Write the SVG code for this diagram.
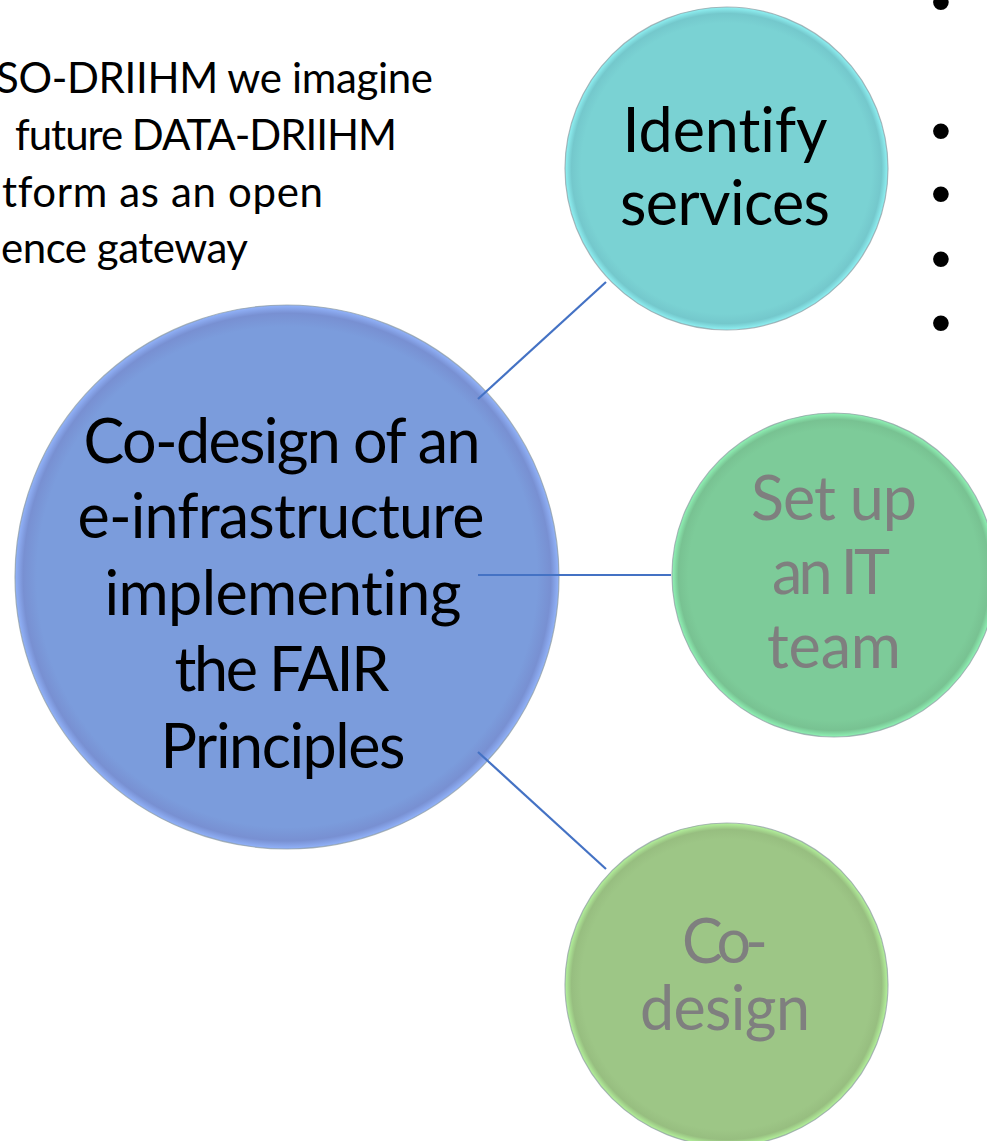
<svg xmlns="http://www.w3.org/2000/svg" width="987" height="1141" viewBox="0 0 987 1141">
  <style>
    text { font-variant-ligatures: none; }
    .lead { font-family: Lato, "Liberation Sans", Arial, sans-serif; font-size: 42px; fill: #000; }
    .big { font-family: Lato, "Liberation Sans", Arial, sans-serif; font-size: 61px; text-anchor: middle; }
    .dark { fill: #000; }
    .gray { fill: #7f7f7f; }
    .bullet { font-family: "Liberation Sans", Arial, sans-serif; font-size: 58px; fill: #000; text-anchor: middle; }
    .ring { stroke: #8c9aa0; stroke-width: 1.2; stroke-opacity: 0.7; }
    .conn { stroke: #4472c4; stroke-width: 2.2; fill: none; }
  </style>
  <defs>
    <radialGradient id="gTeal" cx="0.5" cy="0.5" r="0.5">
      <stop offset="0" stop-color="#7ad2d3"/>
      <stop offset="0.9" stop-color="#7ad2d3"/>
      <stop offset="0.96" stop-color="#74c8cc"/>
      <stop offset="1" stop-color="#90f2f4"/>
    </radialGradient>
    <radialGradient id="gBlue" cx="0.5" cy="0.5" r="0.5">
      <stop offset="0" stop-color="#7b9cdc"/>
      <stop offset="0.92" stop-color="#7b9cdc"/>
      <stop offset="0.97" stop-color="#7890d2"/>
      <stop offset="1" stop-color="#92b3fa"/>
    </radialGradient>
    <radialGradient id="gGreen" cx="0.5" cy="0.5" r="0.5">
      <stop offset="0" stop-color="#7dcb99"/>
      <stop offset="0.9" stop-color="#7dcb99"/>
      <stop offset="0.96" stop-color="#78c292"/>
      <stop offset="1" stop-color="#90f4b6"/>
    </radialGradient>
    <radialGradient id="gLime" cx="0.5" cy="0.5" r="0.5">
      <stop offset="0" stop-color="#9dc686"/>
      <stop offset="0.9" stop-color="#9dc686"/>
      <stop offset="0.96" stop-color="#97be80"/>
      <stop offset="1" stop-color="#b4f39c"/>
    </radialGradient>
  </defs>

  <rect width="987" height="1141" fill="#ffffff"/>

  <g id="intro-text">
    <text class="lead" x="-4" y="93" textLength="437" lengthAdjust="spacing">SO-DRIIHM we imagine</text>
    <text class="lead" x="15" y="150" textLength="382" lengthAdjust="spacing">future DATA-DRIIHM</text>
    <text class="lead" x="2" y="207" textLength="321" lengthAdjust="spacing">tform as an open</text>
    <text class="lead" x="1" y="263" textLength="247" lengthAdjust="spacing">ence gateway</text>
  </g>

  <g id="bullets">
    <text class="bullet" x="941" y="21">•</text>
    <text class="bullet" x="941" y="150">•</text>
    <text class="bullet" x="941" y="213">•</text>
    <text class="bullet" x="941" y="278">•</text>
    <text class="bullet" x="941" y="342">•</text>
  </g>

  <g id="node-main">
    <circle class="ring" cx="287" cy="577" r="272" fill="url(#gBlue)"/>
    <text class="big dark" x="282" y="463" textLength="397" lengthAdjust="spacing">Co-design of an</text>
    <text class="big dark" x="281" y="538" textLength="407" lengthAdjust="spacing">e-infrastructure</text>
    <text class="big dark" x="283" y="615" textLength="357" lengthAdjust="spacing">implementing</text>
    <text class="big dark" x="282" y="691" textLength="215" lengthAdjust="spacing">the FAIR</text>
    <text class="big dark" x="283" y="768" textLength="245" lengthAdjust="spacing">Principles</text>
  </g>

  <g id="node-identify">
    <circle class="ring" cx="726.5" cy="168.5" r="161.5" fill="url(#gTeal)"/>
    <text class="big dark" x="725" y="152" textLength="205" lengthAdjust="spacing">Identify</text>
    <text class="big dark" x="725" y="225" textLength="210" lengthAdjust="spacing">services</text>
  </g>

  <g id="node-itteam">
    <circle class="ring" cx="834" cy="575" r="162" fill="url(#gGreen)"/>
    <text class="big gray" x="834" y="520" textLength="166" lengthAdjust="spacing">Set up</text>
    <text class="big gray" x="831" y="594" textLength="118" lengthAdjust="spacing">an IT</text>
    <text class="big gray" x="834" y="668" textLength="134" lengthAdjust="spacing">team</text>
  </g>

  <g id="node-codesign">
    <circle class="ring" cx="726.5" cy="984.5" r="161.5" fill="url(#gLime)"/>
    <text class="big gray" x="725" y="963" textLength="86" lengthAdjust="spacing">Co-</text>
    <text class="big gray" x="725" y="1030" textLength="170" lengthAdjust="spacing">design</text>
  </g>

  <g id="connectors">
    <line class="conn" x1="478" y1="399" x2="606" y2="282"/>
    <line class="conn" x1="478" y1="575" x2="671" y2="575"/>
    <line class="conn" x1="478" y1="752" x2="606" y2="869"/>
  </g>
</svg>
